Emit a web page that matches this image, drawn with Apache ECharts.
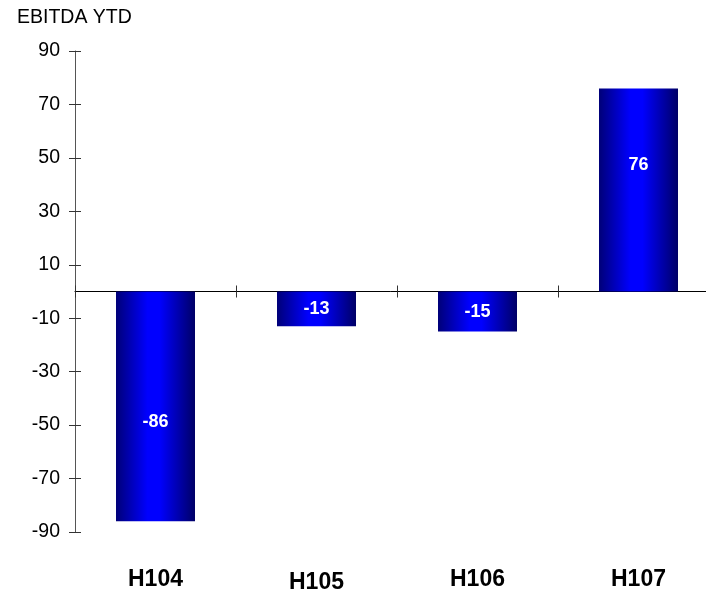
<!DOCTYPE html>
<html>
<head>
<meta charset="utf-8">
<script src="https://cdn.jsdelivr.net/npm/echarts@6/dist/echarts.min.js"></script>
<style>
html,body{margin:0;padding:0;background:#fff;}
#chart{width:706px;height:591px;}
</style>
</head>
<body>
<div id="chart"></div>
<script>
// ---- data ----
const categories = ['H104', 'H105', 'H106', 'H107'];
const ebitdaValues = [-86, -13, -15, 76];
const yMin = -90, yMax = 90, yStep = 20;
const titleText = 'EBITDA YTD';

// ---- styling ----
const FONT = '"Liberation Sans", Arial, sans-serif';
const labelOffsets = [[0, 16], [0, 0], [0, 0], [0, -25]];
const catLabelPad = [0, 3, 0, 0];

const barGradient = new echarts.graphic.LinearGradient(0, 0, 1, 0, [
  { offset: 0, color: '#000078' },
  { offset: 0.4, color: '#0000ff' },
  { offset: 0.55, color: '#0000ff' },
  { offset: 1, color: '#000066' }
]);

const chart = echarts.init(document.getElementById('chart'), null, { renderer: 'canvas' });

const baseY = {
  type: 'value', min: yMin, max: yMax, interval: yStep, position: 'left',
  splitLine: { show: false }
};

const option = {
  animation: false,
  backgroundColor: '#ffffff',
  title: {
    text: titleText, left: 17, top: 8, padding: 0,
    textStyle: { fontFamily: FONT, fontSize: 19.5, fontWeight: 'normal', color: '#000' }
  },
  grid: { left: 75, top: 51, width: 644, height: 481, containLabel: false, outerBoundsMode: 'none' },
  xAxis: [
    {
      type: 'category', data: categories, position: 'bottom',
      axisLine: { show: true, onZero: true, lineStyle: { color: '#000', width: 1 } },
      axisTick: { show: true, length: 6, inside: false, lineStyle: { color: '#333' } },
      axisLabel: { show: false }
    },
    {
      type: 'category', data: categories, position: 'bottom',
      axisLine: { show: false, onZero: true },
      axisTick: { show: true, length: 6, inside: true, lineStyle: { color: '#333' } },
      axisLabel: { show: false }
    },
    {
      type: 'category', position: 'bottom',
      data: categories.map((c, i) => ({
        value: c,
        textStyle: { padding: [catLabelPad[i], 0, 0, 0] }
      })),
      axisLine: { show: false, onZero: false },
      axisTick: { show: false },
      axisLabel: {
        show: true, margin: 36, fontFamily: FONT, fontSize: 23, fontWeight: 'bold', color: '#000'
      }
    }
  ],
  yAxis: [
    Object.assign({}, baseY, {
      axisLine: { show: true, onZero: false, lineStyle: { color: '#555' } },
      axisTick: { show: false },
      axisLabel: { show: true, margin: 15, fontFamily: FONT, fontSize: 19.5, color: '#000' }
    }),
    Object.assign({}, baseY, {
      offset: -6,
      axisLine: { show: false, onZero: false },
      axisTick: { show: true, length: 12, inside: false, lineStyle: { color: '#333' } },
      axisLabel: { show: false }
    })
  ],
  series: [{
    type: 'bar',
    xAxisIndex: 0, yAxisIndex: 0,
    barWidth: 79,
    data: ebitdaValues.map((v, i) => ({
      value: v,
      label: { offset: labelOffsets[i] }
    })),
    itemStyle: { color: barGradient },
    label: {
      show: true, position: 'inside', color: '#fff',
      fontFamily: FONT, fontSize: 18, fontWeight: 'bold'
    }
  }]
};

chart.setOption(option);
</script>
</body>
</html>
